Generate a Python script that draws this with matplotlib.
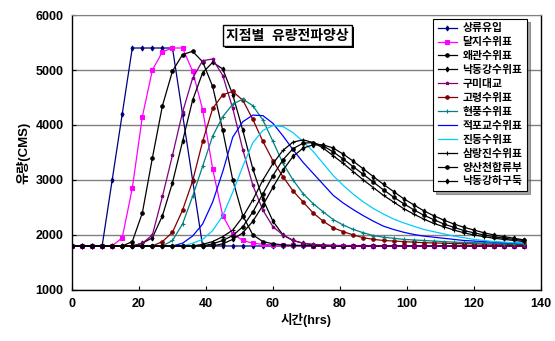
import numpy as np
import matplotlib.pyplot as plt
from matplotlib.patches import Rectangle

plt.rcParams['font.family'] = ['Liberation Sans', 'Noto Sans CJK KR', 'DejaVu Sans']
plt.rcParams['font.weight'] = 'bold'

# 시간 (3시간 간격)
t = list(range(0, 136, 3))

# 지점별 유량 (CMS), 그림에서 읽은 값
upstream = [1800, 1800, 1800, 1800, 3000, 4200, 5400, 5400, 5400, 5400, 5400, 4200, 3000, 1800,
            1800, 1800, 1800, 1800, 1800, 1800, 1800, 1800, 1800, 1800, 1800, 1800, 1800, 1800,
            1800, 1800, 1800, 1800, 1800, 1800, 1800, 1800, 1800, 1800, 1800, 1800, 1800, 1800,
            1800, 1800, 1800, 1800]
dalji = [1800, 1800, 1800, 1800, 1800, 1950, 2850, 4150, 5000, 5330, 5400, 5400, 4980, 4280,
         3200, 2350, 2020, 1900, 1850, 1830, 1820, 1810, 1810, 1810, 1800, 1800, 1800, 1800,
         1800, 1800, 1800, 1800, 1800, 1800, 1800, 1800, 1800, 1800, 1800, 1800, 1800, 1800,
         1800, 1800, 1800, 1800]
waegwan = [1800, 1800, 1800, 1800, 1800, 1800, 1880, 2400, 3400, 4350, 4980, 5280, 5340, 5150,
           4700, 3900, 3000, 2350, 2000, 1880, 1840, 1820, 1810, 1810, 1800, 1800, 1800, 1800,
           1800, 1800, 1800, 1800, 1800, 1800, 1800, 1800, 1800, 1800, 1800, 1800, 1800, 1800,
           1800, 1800, 1800, 1800]
nakdong = [1800, 1800, 1800, 1800, 1800, 1800, 1800, 1850, 1950, 2350, 2950, 3700, 4450, 4950,
           5140, 5020, 4550, 3900, 3200, 2650, 2250, 2000, 1900, 1850, 1820, 1810, 1810, 1800,
           1800, 1800, 1800, 1800, 1800, 1800, 1800, 1800, 1800, 1800, 1800, 1800, 1800, 1800,
           1800, 1800, 1800, 1800]
gumi = [1800, 1800, 1800, 1800, 1800, 1800, 1800, 1850, 2000, 2700, 3450, 4230, 4850, 5170,
        5200, 4900, 4300, 3550, 2900, 2450, 2150, 2000, 1900, 1850, 1830, 1820, 1810, 1810,
        1800, 1800, 1800, 1800, 1800, 1800, 1800, 1800, 1800, 1800, 1800, 1800, 1800, 1800,
        1800, 1800, 1800, 1800]
goryeong = [1800, 1800, 1800, 1800, 1800, 1800, 1800, 1800, 1800, 1880, 2050, 2450, 2980, 3700,
            4300, 4550, 4610, 4450, 4100, 3700, 3350, 3060, 2800, 2600, 2400, 2250, 2130, 2060,
            2000, 1950, 1920, 1900, 1890, 1880, 1870, 1860, 1855, 1850, 1845, 1840, 1840, 1835,
            1835, 1830, 1830, 1830]
hyeonpung = [1800, 1800, 1800, 1800, 1800, 1800, 1800, 1800, 1800, 1800, 1900, 2200, 2700, 3250,
             3800, 4150, 4380, 4470, 4350, 4090, 3700, 3300, 3000, 2750, 2570, 2420, 2280, 2180,
             2100, 2040, 1990, 1960, 1940, 1920, 1910, 1900, 1890, 1880, 1870, 1865, 1860, 1855,
             1850, 1845, 1840, 1840]
jeokpo = [1800, 1800, 1800, 1800, 1800, 1800, 1800, 1800, 1800, 1800, 1800, 1850, 1980, 2200,
          2600, 3150, 3780, 4060, 4180, 4170, 4030, 3800, 3550, 3320, 3120, 2920, 2720, 2580,
          2460, 2350, 2250, 2160, 2100, 2050, 2010, 1980, 1960, 1940, 1920, 1900, 1890, 1880,
          1870, 1860, 1855, 1850]
jindong = [1800, 1800, 1800, 1800, 1800, 1800, 1800, 1800, 1800, 1800, 1800, 1800, 1850, 1920,
           2080, 2350, 2780, 3250, 3680, 3900, 3990, 3970, 3860, 3700, 3520, 3300, 3080, 2900,
           2740, 2600, 2480, 2380, 2290, 2220, 2160, 2100, 2060, 2020, 1980, 1950, 1920, 1900,
           1880, 1870, 1860, 1850]
samrangjin = [1800, 1800, 1800, 1800, 1800, 1800, 1800, 1800, 1800, 1800, 1800, 1800, 1800, 1830,
              1880, 1970, 2090, 2330, 2640, 3000, 3300, 3540, 3690, 3730, 3680, 3580, 3440, 3300,
              3150, 3000, 2860, 2720, 2600, 2480, 2380, 2290, 2210, 2150, 2090, 2040, 2000, 1970,
              1940, 1920, 1900, 1880]
yangsan = [1800, 1800, 1800, 1800, 1800, 1800, 1800, 1800, 1800, 1800, 1800, 1800, 1800, 1800,
           1840, 1900, 1990, 2150, 2420, 2750, 3080, 3370, 3570, 3670, 3680, 3620, 3510, 3380,
           3240, 3100, 2960, 2820, 2690, 2570, 2460, 2360, 2280, 2200, 2140, 2080, 2040, 2000,
           1970, 1940, 1920, 1900]
hagudug = [1800, 1800, 1800, 1800, 1800, 1800, 1800, 1800, 1800, 1800, 1800, 1800, 1800, 1800,
           1800, 1840, 1920, 2040, 2250, 2540, 2870, 3180, 3430, 3580, 3640, 3640, 3580, 3470,
           3340, 3200, 3060, 2920, 2790, 2660, 2550, 2440, 2350, 2270, 2200, 2140, 2090, 2040,
           2000, 1970, 1940, 1910]

names = ['상류유입', '달지수위표', '왜관수위표', '낙동강수위표', '구미대교', '고령수위표',
         '현풍수위표', '적포교수위표', '진동수위표', '삼랑진수위표', '양산천합류부', '낙동강하구둑']
series = [upstream, dalji, waegwan, nakdong, gumi, goryeong,
          hyeonpung, jeokpo, jindong, samrangjin, yangsan, hagudug]
colors = ['#000080', '#ff00ff', 'black', 'black', '#800080', '#800000',
          '#008080', '#0000ff', '#00ccff', 'black', 'black', 'black']
markers = ['d', 's', 'o', 'd', '*', 'o', '+', None, None, '+', 'o', 'd']

fig = plt.figure(figsize=(5.55, 3.41), dpi=100)
ax = fig.add_axes([0.1297, 0.1496, 0.845, 0.8064])

for y, name, c, m in zip(series, names, colors, markers):
    ax.plot(t, y, color=c, lw=0.9, marker=m, ms=2.5, mew=0.8, label=name)

ax.set_xlim(0, 140)
ax.set_ylim(1000, 6000)
ax.set_xticks(range(0, 141, 20))
ax.set_yticks(range(1000, 6001, 1000))
ax.yaxis.grid(True, color='#808080', lw=1.0)
ax.set_axisbelow(True)
ax.tick_params(direction='in', length=3, labelsize=9, pad=6)
for s in ['left', 'bottom', 'right']:
    ax.spines[s].set_linewidth(1.0)
ax.spines['top'].set_color('#808080')

ax.set_xlabel('시간(hrs)', fontsize=9, fontweight='bold', labelpad=2)
ax.set_ylabel('유량(CMS)', fontsize=9.5, fontweight='bold', labelpad=4)

# 제목 상자 + 그림자
title = ax.text(0.46, 0.924, '지점별  유량전파양상', transform=ax.transAxes, ha='center',
                va='center', fontsize=10, fontweight='bold', zorder=6,
                bbox=dict(boxstyle='square,pad=0.25', fc='white', ec='black', lw=1))
fig.canvas.draw()
bb = title.get_bbox_patch().get_window_extent()
ax.add_artist(Rectangle((bb.x0 + 2, bb.y0 - 2), bb.width, bb.height, transform=None,
                        fc='black', ec='none', zorder=5))

leg = ax.legend(loc='upper right', bbox_to_anchor=(0.97, 0.985), fontsize=7.8, frameon=True,
                fancybox=False, shadow=True, handlelength=1.8, handletextpad=0.5,
                labelspacing=0.36, borderpad=0.4, borderaxespad=0)
leg.get_frame().set_edgecolor('black')
leg.get_frame().set_linewidth(0.8)
for txt in leg.get_texts():
    txt.set_fontweight('bold')

fig.savefig('out.png', dpi=100)
